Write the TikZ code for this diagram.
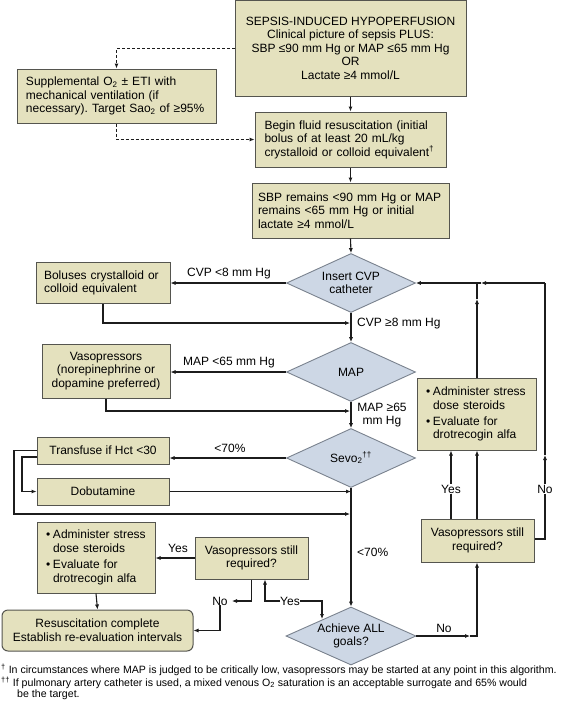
\documentclass[tikz,border=0pt]{standalone}
\usepackage{fontspec}
\setmainfont{Liberation Sans}
\usetikzlibrary{shapes.geometric,arrows.meta}
\definecolor{boxfill}{HTML}{E4E1BE}
\definecolor{boxline}{HTML}{55554F}
\definecolor{dfill}{HTML}{CDD7E5}
\definecolor{dline}{HTML}{7A828E}
\definecolor{ink}{HTML}{1C1C1C}
\newcommand{\mfs}{\fontsize{12}{13.6}\selectfont\frenchspacing}
\newcommand{\ffs}{\fontsize{10.6}{12}\selectfont\frenchspacing}
\newcommand{\bul}{\makebox[7pt][l]{\textbullet}}
\begin{document}
\begin{tikzpicture}[x=1pt,y=-1pt,
  every node/.style={font=\mfs, inner sep=0pt},
  box/.style={draw=boxline, fill=boxfill, line width=1pt, rectangle},
  dia/.style={draw=dline, fill=dfill, line width=0.9pt, diamond, shape aspect=2.2, minimum width=129pt, minimum height=59pt, align=center},
  arr/.style={draw=ink, line width=1.1pt, -{Latex[length=5pt,width=4.2pt]}},
  ln/.style={draw=ink, line width=1.1pt},
  dasharr/.style={draw=ink, line width=1.1pt, dash pattern=on 3pt off 2pt, -{Latex[length=5pt,width=4.2pt]}},
  lab/.style={font=\mfs, fill=white, inner sep=1pt}
]
\useasboundingbox (0,0) rectangle (561,705);
\fill[white] (0,0) rectangle (561,705);

% boxes
\node[box, minimum width=231pt, minimum height=95.5pt, align=center] (b1) at (350.5,48.25)
  {SEPSIS-INDUCED HYPOPERFUSION\\Clinical picture of sepsis PLUS:\\SBP ≤90 mm Hg or MAP ≤65 mm Hg\\OR\\Lactate ≥4 mmol/L};
\node[box, minimum width=199pt, minimum height=54pt, text width=181pt, align=left] (b2) at (116.5,96)
  {Supplemental O\textsubscript{2} ± ETI with\\mechanical ventilation (if\\necessary). Target Sao\textsubscript{2} of ≥95\%};
\node[box, minimum width=191pt, minimum height=55pt, text width=172pt, align=left] (b3) at (350.5,139.5)
  {Begin fluid resuscitation (initial\\bolus of at least 20 mL/kg\\crystalloid or colloid equivalent\textsuperscript{†}};
\node[box, minimum width=197pt, minimum height=55pt, text width=185pt, align=left] (b4) at (350.5,210.5)
  {SBP remains <90 mm Hg or MAP\\remains <65 mm Hg or initial\\lactate ≥4 mmol/L};
\node[box, minimum width=134pt, minimum height=41pt, text width=118pt, align=left] (b5) at (103,283)
  {Boluses crystalloid or\\colloid equivalent};
\node[box, minimum width=128pt, minimum height=54pt, align=center] (b6) at (106,371)
  {Vasopressors\\(norepinephrine or\\dopamine preferred)};
\node[box, minimum width=132pt, minimum height=27pt, align=center] (b7) at (103,450.5)
  {Transfuse if Hct <30};
\node[box, minimum width=132pt, minimum height=27pt, align=center] (b8) at (103,491.5)
  {Dobutamine};
\node[box, minimum width=118pt, minimum height=71pt, text width=100pt, align=left] (b9) at (96,557.5)
  {\bul Administer stress\\\hspace*{7pt}dose steroids\\[2.5pt]\bul Evaluate for\\\hspace*{7pt}drotrecogin alfa};
\node[box, minimum width=113pt, minimum height=42pt, align=center] (b10) at (251.5,558)
  {Vasopressors still\\required?};
\node[box, rounded corners=6pt, minimum width=191pt, minimum height=41pt, align=center] (b11) at (97.5,630.5)
  {Resuscitation complete\\Establish re-evaluation intervals};
\node[box, minimum width=119pt, minimum height=72pt, text width=101pt, align=left] (b12) at (476.5,414)
  {\bul Administer stress\\\hspace*{7pt}dose steroids\\[2.5pt]\bul Evaluate for\\\hspace*{7pt}drotrecogin alfa};
\node[box, minimum width=113pt, minimum height=43pt, align=center] (b13) at (477.5,540.5)
  {Vasopressors still\\required?};

% diamonds
\node[dia] (d1) at (351,283) {Insert CVP\\catheter};
\node[dia] (d2) at (351,372) {MAP};
\node[dia] (d3) at (351,458) {Sevo\textsubscript{2}\textsuperscript{††}};
\node[dia, minimum width=130pt, minimum height=58pt] (d4) at (351,636) {Achieve ALL\\goals?};

% coordinates
\coordinate (j1) at (350,323);
\coordinate (j2) at (350,411);
\coordinate (o1) at (14,514);
\coordinate (o2) at (350,514);
\coordinate (i1) at (22,491.5);
\coordinate (n1) at (477,636);
\coordinate (nmid) at (470,636);
\coordinate (rmid) at (545,455);
\coordinate (r1) at (545,283);
\coordinate (rj) at (481,283);
\coordinate (j3) at (477,283);
\coordinate (j3mid) at (477,299);
\coordinate (ya) at (265,601);
\coordinate (yc) at (322,619);
\coordinate (nt) at (232,601);
\coordinate (y1) at (451,490);
\coordinate (y2) at (477,490);

% labels
\node (l1) at (229,274) {CVP <8 mm Hg};
\node[anchor=west] (l2) at (357,324) {CVP ≥8 mm Hg};
\node (l3) at (229,363) {MAP <65 mm Hg};
\node[align=center] (l4) at (382,415) {MAP ≥65\\mm Hg};
\node (l5) at (230,448) {<70\%};
\node[anchor=west] (l6) at (357,552) {<70\%};
\node (l7) at (178,548) {Yes};
\node (no2) at (220,601) {No};
\node (yes3) at (290,601) {Yes};
\node (l8) at (444,628) {No};
\node[lab] (yes4) at (451,489) {Yes};
\node[lab] (no4) at (545,489) {No};

% connectors
\draw[arr] (b1.south) -- (b3.north);
\draw[dasharr] (b1.west) -| (b2.north);
\draw[dasharr] (b2.south) |- (b3.west);
\draw[arr] (b3.south) -- (b4.north);
\draw[arr] (b4.south) -- (d1.north);
\draw[arr] (d1.west) -- (d1.west -| b5.east);
\draw[arr] (b5.south) |- (j1);
\draw[arr] (d1.south) -- (d2.north);
\draw[arr] (d2.west) -- (d2.west -| b6.east);
\draw[arr] (b6.south) |- (j2);
\draw[arr] (d2.south) -- (d3.north);
\draw[arr] (d3.west) -- (d3.west -| b7.east);
\draw[arr] (b7.west) -| (o1) -- (o2);
\draw[arr] ([yshift=-6.5pt]b7.west) -| (i1) -- (b8.west);
\draw[arr] (b8.east) -- (b8.east -| d3.south);
\draw[arr] (d3.south) -- (d4.north);
\draw[arr] (b10.west) -- (b10.west -| b9.east);
\draw[arr] (b10.south) |- (nt);
\draw[arr] (no2.south) |- (b11.east);
\draw[arr] (b9.south) -- (b11.north);
\draw[arr] (yes3.west) -| (ya |- b10.south);
\draw[arr] (yes3.east) -| (yc);
\draw[arr] (d4.east) -- (nmid);
\draw[arr] (nmid) -- (n1) -- (n1 |- b13.south);
\draw[ln] (y1 |- b13.north) -- (yes4.south);
\draw[arr] (yes4.north) -- (y1 |- b12.south);
\draw[arr] (y2 |- b13.north) -- (y2 |- b12.south);
\draw[ln] (b13.east |- 0,539) -| (no4.south);
\draw[arr] (no4.north) -- (rmid);
\draw[ln] (rmid) -- (r1);
\draw[arr] (r1) -- (rj);
\draw[arr] (rj) -- (d1.east);
\draw[arr] (j3 |- b12.north) -- (j3mid);
\draw[ln] (j3mid) -- (j3);

% footnotes
\node[anchor=west, font=\ffs] (f1) at (1,670) {\textsuperscript{†} In circumstances where MAP is judged to be critically low, vasopressors may be started at any point in this algorithm.};
\node[anchor=west, font=\ffs] (f2) at (1,682.5) {\textsuperscript{††} If pulmonary artery catheter is used, a mixed venous O\textsubscript{2} saturation is an acceptable surrogate and 65\% would};
\node[anchor=west, font=\ffs] (f3) at (17,694.5) {be the target.};
\end{tikzpicture}
\end{document}
